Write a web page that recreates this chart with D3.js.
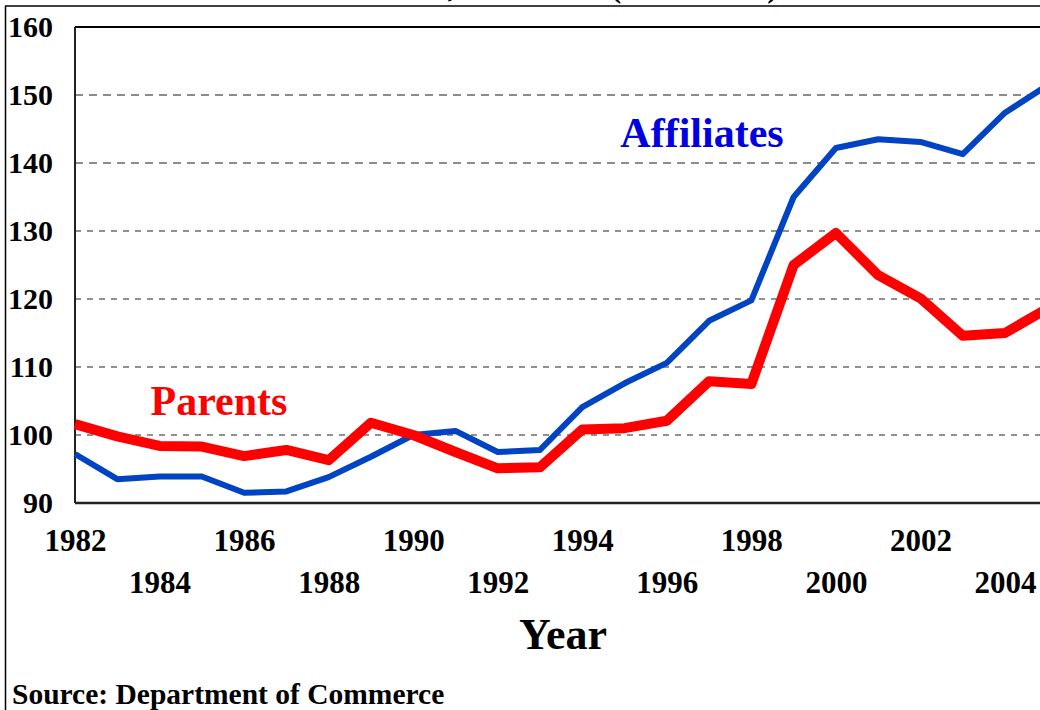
<!DOCTYPE html>
<html>
<head>
<meta charset="utf-8">
<script src="https://cdn.jsdelivr.net/npm/d3@7"></script>
<style>
  html, body { margin: 0; padding: 0; background: #fff; }
  svg { display: block; font-family: "Liberation Serif", "Times New Roman", serif; font-weight: bold; }
</style>
</head>
<body>
<div id="chart"></div>
<script>
// data (index, 1982 = 100)
var years = [1982, 1983, 1984, 1985, 1986, 1987, 1988, 1989, 1990, 1991, 1992, 1993,
             1994, 1995, 1996, 1997, 1998, 1999, 2000, 2001, 2002, 2003, 2004, 2005];
var affiliates = [97.2, 93.5, 93.9, 93.9, 91.5, 91.7, 93.8, 96.8, 100.0, 100.6, 97.5, 97.8,
                  104.1, 107.6, 110.6, 116.8, 119.8, 135.0, 142.2, 143.5, 143.1, 141.3, 147.4, 151.4];
var parents = [101.6, 99.8, 98.4, 98.3, 96.9, 97.8, 96.3, 101.8, 100.0, 97.5, 95.1, 95.25,
               100.8, 101.0, 102.1, 107.9, 107.5, 125.0, 129.7, 123.5, 120.1, 114.6, 115.0, 118.6];
var yTicks = [90, 100, 110, 120, 130, 140, 150, 160];
var xTicks = d3.range(1982, 2005, 2);

var width = 1040, height = 710;
var serif = "'Liberation Serif', 'Times New Roman', serif";

var svg = d3.select("#chart")
    .append("svg")
    .attr("width", width)
    .attr("height", height);

// scales
var x = d3.scaleLinear().domain([1982, 2004]).range([75, 1005]);
var y = d3.scaleLinear().domain([90, 160]).range([503, 27]);

// title (only its bottom edge shows, as in the original)
svg.append("text")
    .attr("x", 778).attr("y", -3)
    .attr("text-anchor", "end")
    .style("font-size", "32px")
    .text("MNC Labor Index, 1982-2005 (1982 = 100)");

// outer frame
svg.append("line").attr("x1", 5).attr("x2", width).attr("y1", 6).attr("y2", 6)
    .attr("stroke", "#000").attr("stroke-width", 1.5);
svg.append("line").attr("x1", 5.5).attr("x2", 5.5).attr("y1", 6).attr("y2", height)
    .attr("stroke", "#000").attr("stroke-width", 1.5);

// gridlines
svg.append("g")
    .selectAll("line")
    .data(yTicks.filter(function(d) { return d > 90 && d < 160; }))
    .join("line")
    .attr("x1", x(1982)).attr("x2", width)
    .attr("y1", function(d) { return y(d); })
    .attr("y2", function(d) { return y(d); })
    .attr("stroke", function(d) { return d >= 140 ? "#666" : "#222"; })
    .attr("stroke-width", function(d) { return d >= 140 ? 1.6 : 1.2; })
    .attr("stroke-dasharray", function(d) { return d >= 140 ? "8,6" : "6,6"; });

// plot frame
svg.append("line").attr("x1", x(1982)).attr("x2", width).attr("y1", y(160)).attr("y2", y(160))
    .attr("stroke", "#000").attr("stroke-width", 2);
svg.append("line").attr("x1", x(1982)).attr("x2", width).attr("y1", y(90)).attr("y2", y(90))
    .attr("stroke", "#222").attr("stroke-width", 2.5);
svg.append("line").attr("x1", x(1982)).attr("x2", x(1982)).attr("y1", y(160)).attr("y2", y(90))
    .attr("stroke", "#222").attr("stroke-width", 2);

// y axis
var yAxis = svg.append("g")
    .attr("transform", "translate(" + (x(1982) - 22) + ",0)")
    .call(d3.axisLeft(y).tickValues(yTicks).tickSize(0).tickPadding(0));
yAxis.select(".domain").remove();
yAxis.selectAll("text")
    .attr("fill", "#000")
    .style("font-family", serif)
    .style("font-weight", "bold")
    .style("font-size", "30px");

// x axis, staggered labels
var xAxis = svg.append("g")
    .attr("transform", "translate(0," + y(90) + ")")
    .call(d3.axisBottom(x).tickValues(xTicks).tickSize(0).tickFormat(d3.format("d")));
xAxis.select(".domain").remove();
xAxis.selectAll("text")
    .attr("fill", "#000")
    .attr("y", function(d) { return ((d - 1982) / 2) % 2 === 0 ? 26 : 68; })
    .style("font-family", serif)
    .style("font-weight", "bold")
    .style("font-size", "31px");

// lines
var line = function(vals) {
    return d3.line()
        .x(function(d, i) { return x(years[i]); })
        .y(function(d) { return y(d); })(vals);
};

svg.append("path")
    .attr("d", line(affiliates))
    .attr("fill", "none")
    .attr("stroke", "#0044c4")
    .attr("stroke-width", 6)
    .attr("stroke-linejoin", "round");

svg.append("path")
    .attr("d", line(parents))
    .attr("fill", "none")
    .attr("stroke", "#ff0000")
    .attr("stroke-width", 10)
    .attr("stroke-linejoin", "round");

// series labels
svg.append("text")
    .attr("x", 702).attr("y", 147)
    .attr("text-anchor", "middle")
    .attr("fill", "#0000e0")
    .style("font-size", "42px")
    .text("Affiliates");

svg.append("text")
    .attr("x", 219).attr("y", 415)
    .attr("text-anchor", "middle")
    .attr("fill", "#ff0000")
    .style("font-size", "42px")
    .text("Parents");

// axis title
svg.append("text")
    .attr("x", 563).attr("y", 649)
    .attr("text-anchor", "middle")
    .style("font-size", "44px")
    .text("Year");

// source
svg.append("text")
    .attr("x", 12).attr("y", 704)
    .style("font-size", "29.5px")
    .text("Source: Department of Commerce");
</script>
</body>
</html>
